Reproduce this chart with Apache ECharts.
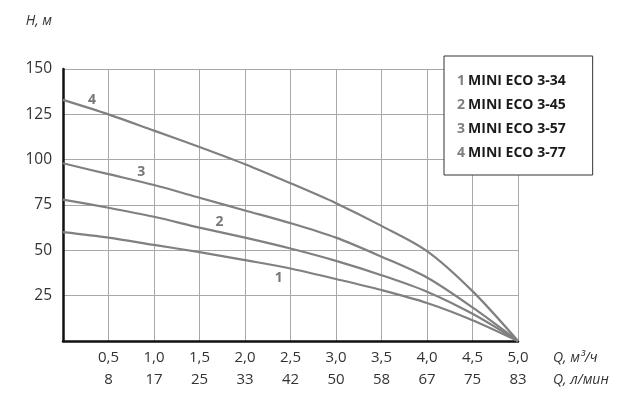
<!DOCTYPE html>
<html>
<head>
<meta charset="utf-8">
<script src="https://cdn.jsdelivr.net/npm/echarts@6/dist/echarts.min.js"></script>
<style>
html,body{margin:0;padding:0;background:#fff;}
#c{width:626px;height:408px;}
</style>
</head>
<body>
<div id="c"></div>
<script>
// Data
const flowM3h = [0, 0.5, 1.0, 1.5, 2.0, 2.5, 3.0, 3.5, 4.0, 4.5, 5.0];
const flowLpm = ['0', '8', '17', '25', '33', '42', '50', '58', '67', '75', '83'];
const seriesNames = ['MINI ECO 3-34', 'MINI ECO 3-45', 'MINI ECO 3-57', 'MINI ECO 3-77'];
const head1 = [60, 57, 53, 49, 44.6, 40, 34.2, 28.1, 21, 11.5, 0];
const head2 = [78, 73.5, 68.5, 62.5, 57, 51, 44.2, 36.3, 27.2, 15, 0];
const head3 = [98, 92, 86, 79, 72, 65, 57, 46.5, 35, 18.5, 0];
const head4 = [133, 125, 116, 107, 97.5, 87, 76, 63.5, 49.6, 27.5, 0];
const heads = [head1, head2, head3, head4];
// curve number labels placed in data coordinates
const curveLabelPos = [[2.37, 35], [1.72, 65.5], [0.86, 93], [0.32, 133]];
const yTicks = [0, 25, 50, 75, 100, 125, 150];

const font = '"Open Sans", "Noto Sans", sans-serif';
const lineColor = '#808080';

const chart = echarts.init(document.getElementById('c'), null, {renderer: 'canvas'});

const series = heads.map((h, i) => ({
  name: seriesNames[i],
  type: 'line',
  smooth: 0.3,
  symbol: 'none',
  lineStyle: {color: lineColor, width: 2.2},
  itemStyle: {color: lineColor},
  data: flowM3h.map((x, j) => [x, h[j]]),
  markPoint: {
    symbol: 'circle',
    symbolSize: 0,
    silent: true,
    label: {
      show: true,
      position: 'inside',
      formatter: String(i + 1),
      color: '#777',
      fontFamily: font,
      fontWeight: 'bold',
      fontSize: 14
    },
    data: [{coord: curveLabelPos[i]}]
  }
}));

chart.setOption({
  animation: false,
  backgroundColor: '#fff',
  grid: {left: 63, right: 108, top: 69, bottom: 67, containLabel: false},
  legend: {
    orient: 'vertical',
    left: 444,
    top: 56,
    data: seriesNames,
    icon: 'none',
    itemWidth: 0,
    itemHeight: 14,
    itemGap: 10,
    padding: [18, 27, 15, 8],
    borderColor: '#333',
    borderWidth: 1,
    backgroundColor: '#fff',
    selectedMode: false,
    formatter: function (name) {
      return '{n|' + (seriesNames.indexOf(name) + 1) + '} {t|' + name + '}';
    },
    textStyle: {
      fontFamily: font,
      rich: {
        n: {color: '#808080', fontSize: 14, fontFamily: font, fontWeight: 'bold'},
        t: {color: '#1a1a1a', fontSize: 14, fontFamily: font, fontWeight: 'bold'}
      }
    }
  },
  xAxis: {
    type: 'value',
    min: 0,
    max: 5,
    interval: 0.5,
    name: 'Q, м³/ч\nQ, л/мин',
    nameLocation: 'end',
    nameGap: 35,
    nameTextStyle: {
      fontFamily: font,
      fontStyle: 'italic',
      fontSize: 14,
      color: '#333',
      align: 'left',
      verticalAlign: 'top',
      lineHeight: 22,
      padding: [6, 0, 0, 0]
    },
    axisLine: {show: true, lineStyle: {color: '#111', width: 2.5}},
    axisTick: {show: false},
    splitLine: {show: true, lineStyle: {color: '#a8a8a8', width: 1}},
    axisLabel: {
      margin: 6,
      fontFamily: font,
      fontSize: 15,
      color: '#333',
      lineHeight: 22,
      formatter: function (v) {
        const idx = flowM3h.findIndex(x => Math.abs(x - v) < 1e-6);
        if (idx <= 0) return '';
        return v.toFixed(1).replace('.', ',') + '\n' + flowLpm[idx];
      }
    }
  },
  yAxis: {
    type: 'value',
    min: yTicks[0],
    max: yTicks[yTicks.length - 1],
    interval: 25,
    name: 'H, м',
    nameLocation: 'end',
    nameGap: 41,
    nameTextStyle: {
      fontFamily: font,
      fontStyle: 'italic',
      fontSize: 14,
      color: '#333',
      align: 'right',
      padding: [0, 11, 0, 0]
    },
    axisLine: {show: true, lineStyle: {color: '#111', width: 2.5}},
    axisTick: {show: false},
    splitLine: {show: true, lineStyle: {color: '#a8a8a8', width: 1}},
    axisLabel: {
      margin: 11,
      fontFamily: font,
      fontSize: 15.5,
      color: '#333',
      formatter: function (v) { return v === 0 ? '' : String(v); }
    }
  },
  series: series
});
</script>
</body>
</html>
